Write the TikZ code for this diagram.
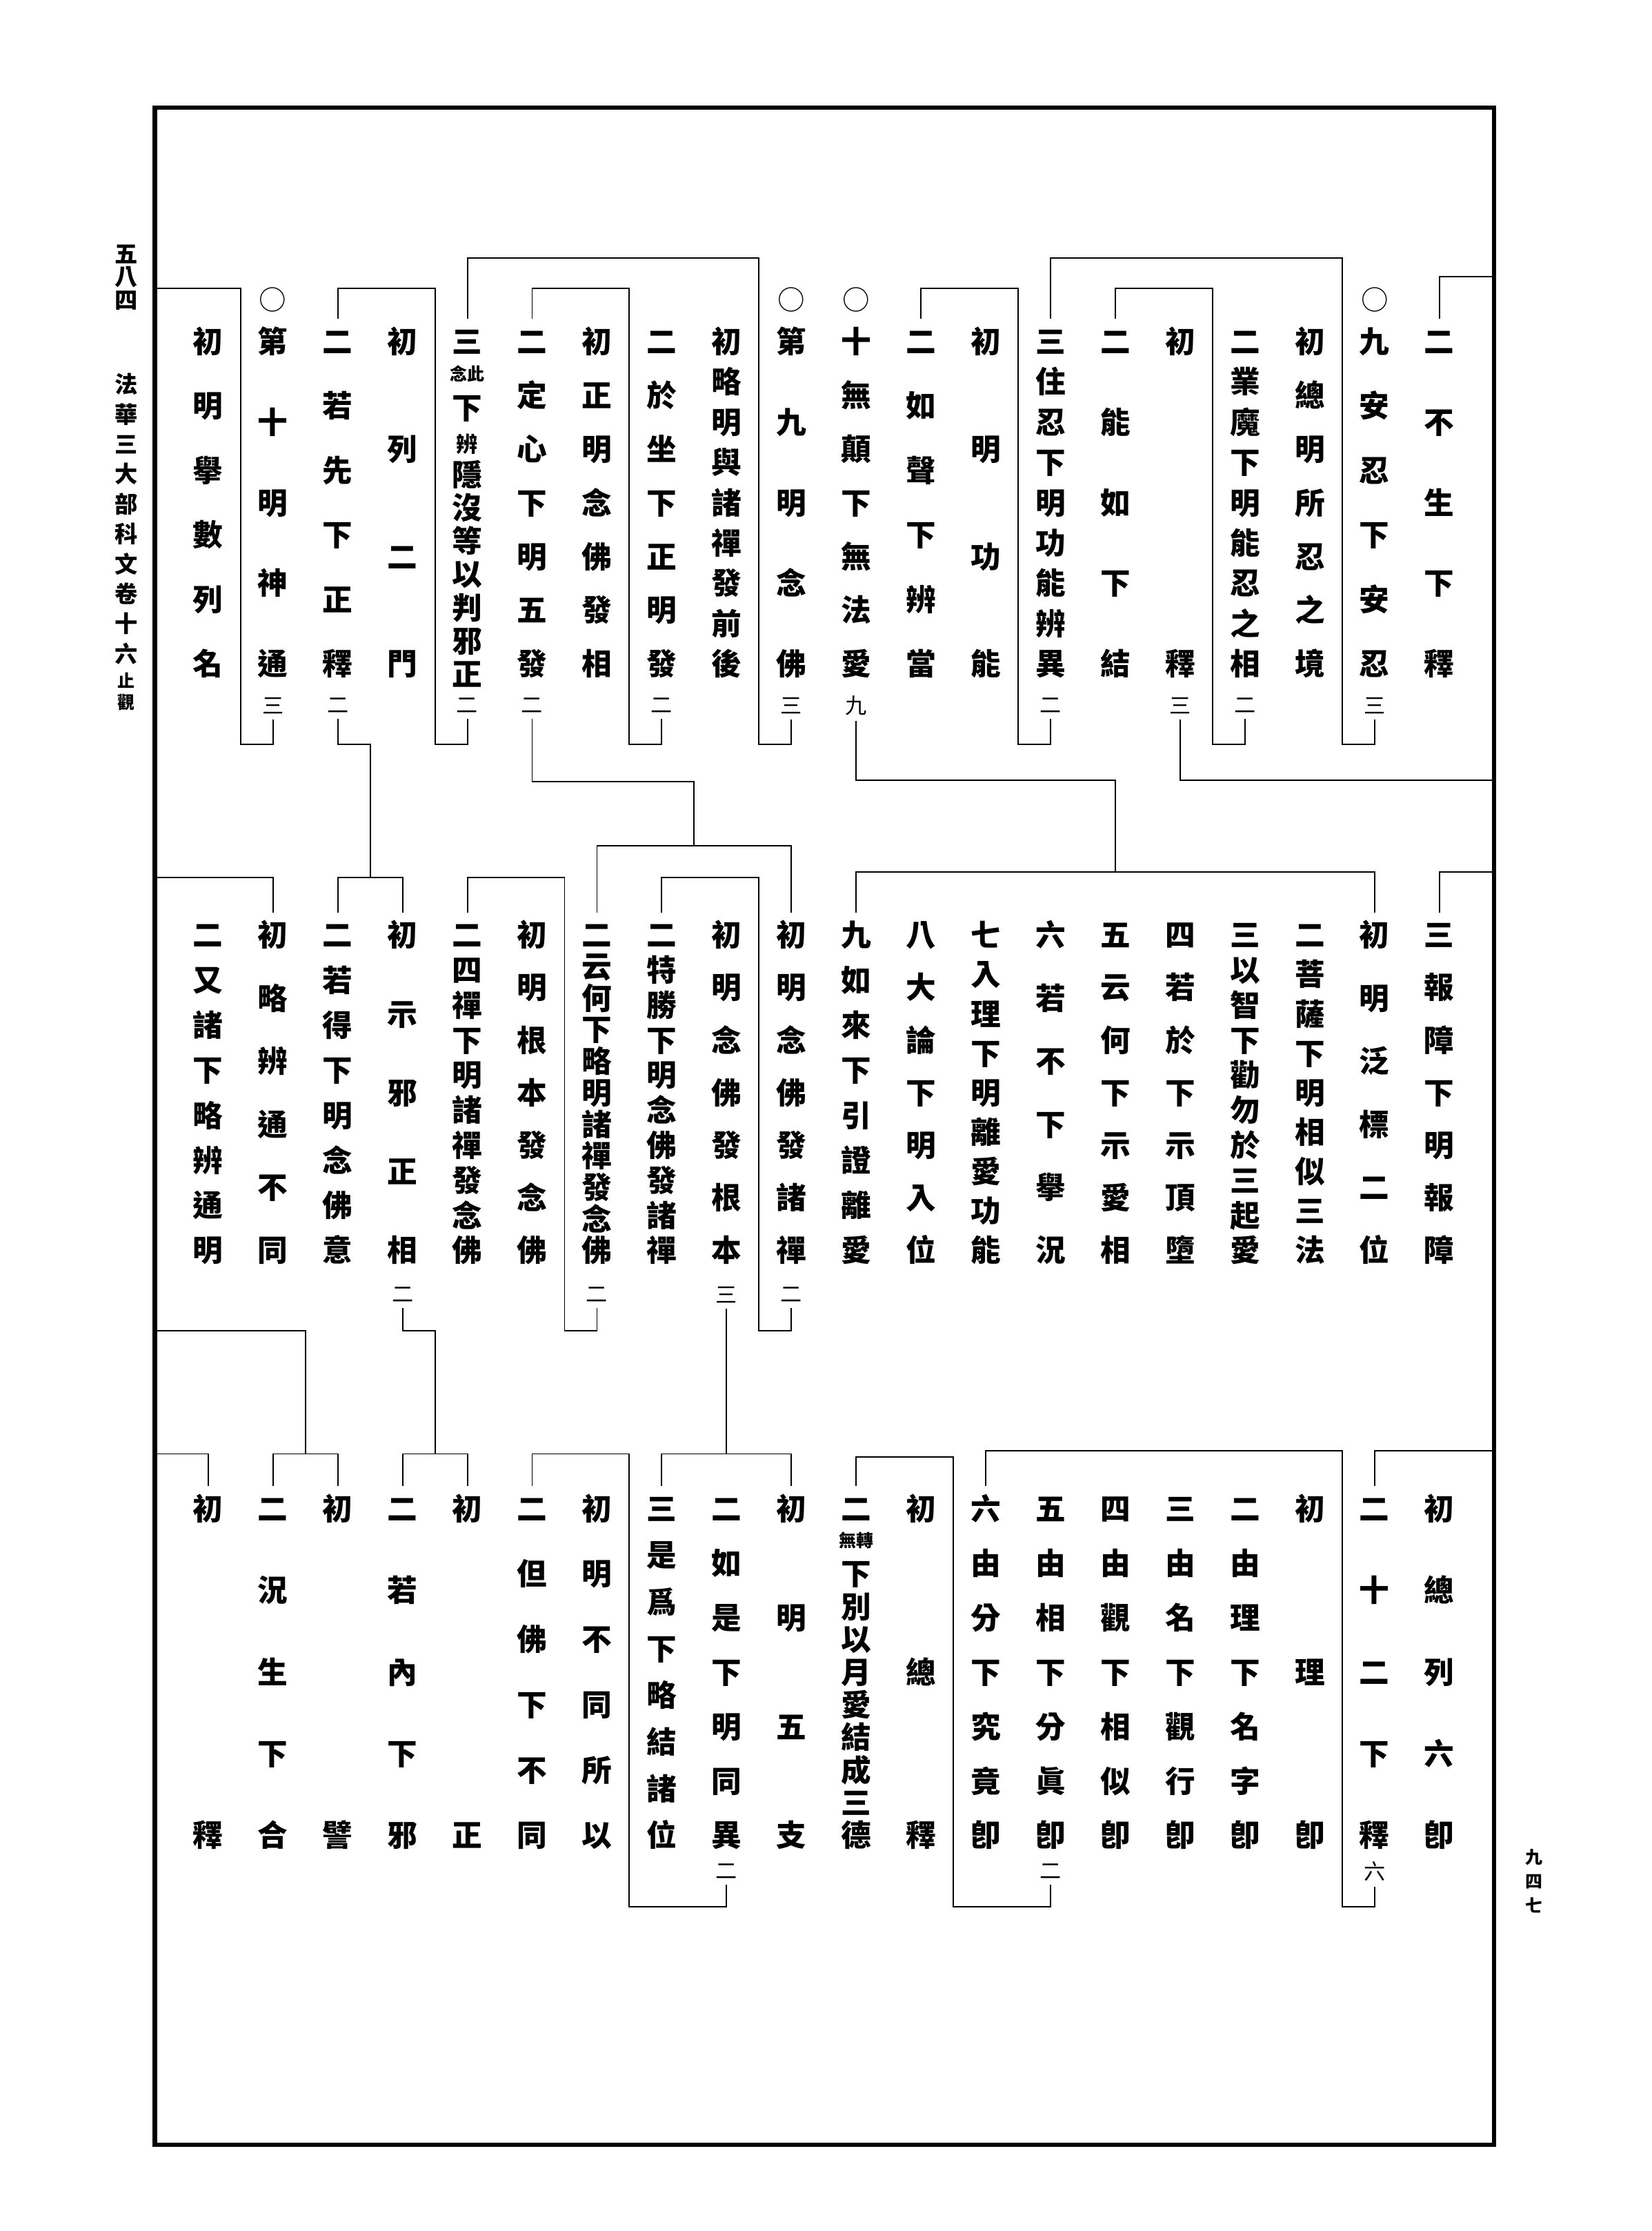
\documentclass[tikz,border=0pt]{standalone}
\usepackage{fontspec}
\newfontfamily\cjk{Noto Sans CJK TC}

% x of the k-th column, counted from the right
\pgfmathdeclarefunction{cx}{1}{\pgfmathparse{1004-45.2*(#1-1)}}

\newcommand\sm[1]{\raisebox{.18em}{\fontsize{12}{12}\selectfont#1}}
\newcommand\colbox[3]{\vbox to \dimexpr#2pt-#1pt+.88em\relax{\offinterlineskip
  \foreach \ch [count=\k] in #3{\ifnum\k>1 \vfill\fi
    \hbox to 1em{\hss\vrule height .88em depth .12em width 0pt\ch\hss}}}}
\newcommand\kcol[6][col]{\node[#1] (#2) at ({#3},{(#4+#5)/2}) {\colbox{#4}{#5}{#6}};}

\tikzset{
  col/.style={inner sep=0pt, outer ysep=5pt, font=\cjk\bfseries\fontsize{21}{21}\selectfont},
  num/.style={inner sep=0pt, outer ysep=4pt, font=\cjk\fontsize{15}{15}\selectfont},
  ring/.style={inner sep=0pt, font=\cjk\fontsize{19}{19}\selectfont},
  mtext/.style={col, font=\cjk\bfseries\fontsize{16}{16}\selectfont},
  msmall/.style={col, font=\cjk\bfseries\fontsize{12}{12}\selectfont},
  br/.style={line width=.9pt},
  pageframe/.style={line width=3pt}
}

\begin{document}
\begin{tikzpicture}[x=1pt,y=-1pt]
  \fill[white] (0,0) rectangle (1152,1556);
  \useasboundingbox (0,0) rectangle (1152,1556);
  \draw[pageframe] (108,75) rectangle (1042,1496);
  % margin
  \kcol[mtext]{hd1}{88}{177}{209}{{五,八,四}}
  \kcol[mtext]{hd2}{88}{268}{456}{{法,華,三,大,部,科,文,卷,十,六}}
  \kcol[msmall]{hd3}{88}{475}{490}{{止,觀}}
  \kcol[msmall]{pgno}{1070}{1295}{1329}{{九,四,七}}

  % first row
  \foreach \i/\txt in {1/{二,不,生,下,釋},2/{九,安,忍,下,安,忍},3/{初,總,明,所,忍,之,境},
      4/{二,業,魔,下,明,能,忍,之,相},5/{初,釋},6/{二,能,如,下,結},7/{三,住,忍,下,明,功,能,辨,異},
      8/{初,明,功,能},9/{二,如,聲,下,辨,當},10/{十,無,顛,下,無,法,愛},11/{第,九,明,念,佛},
      12/{初,略,明,與,諸,禪,發,前,後},13/{二,於,坐,下,正,明,發},14/{初,正,明,念,佛,發,相},
      15/{二,定,心,下,明,五,發},17/{初,列,二,門},18/{二,若,先,下,正,釋},19/{第,十,明,神,通},
      20/{初,明,擧,數,列,名}}
    {\kcol{a\i}{cx(\i)}{238}{463}{\txt}}
  \kcol{a16}{cx(16)}{238}{470}{{三,\sm{念此},下,{\fontsize{15}{15}\selectfont 辨},隱,沒,等,以,判,邪,正}}
  \foreach \i in {2,10,11,19}
    \node[ring] (a\i-o) at ({cx(\i)},209) {○};
  \foreach \i/\txt in {2/三,4/二,5/三,7/二,10/九,11/三,13/二,15/二,16/二,18/二,19/三}
    \node[num] (a\i-n) at ({cx(\i)},492) {\txt};

  % second row
  \foreach \i/\txt in {1/{三,報,障,下,明,報,障},2/{初,明,泛,標,二,位},3/{二,菩,薩,下,明,相,似,三,法},
      4/{三,以,智,下,勸,勿,於,三,起,愛},5/{四,若,於,下,示,頂,墮},6/{五,云,何,下,示,愛,相},
      7/{六,若,不,下,擧,況},8/{七,入,理,下,明,離,愛,功,能},9/{八,大,論,下,明,入,位},
      10/{九,如,來,下,引,證,離,愛},11/{初,明,念,佛,發,諸,禪},12/{初,明,念,佛,發,根,本},
      13/{二,特,勝,下,明,念,佛,發,諸,禪},14/{二,云,何,下,略,明,諸,禪,發,念,佛},
      15/{初,明,根,本,發,念,佛},16/{二,四,禪,下,明,諸,禪,發,念,佛},17/{初,示,邪,正,相},
      18/{二,若,得,下,明,念,佛,意},19/{初,略,辨,通,不,同},20/{二,又,諸,下,略,辨,通,明}}
    {\kcol{b\i}{cx(\i)}{652}{872}{\txt}}
  \foreach \i/\txt in {11/二,12/三,14/二,17/二}
    \node[num] (b\i-n) at ({cx(\i)},903) {\txt};

  % third row
  \foreach \i/\txt in {1/{初,總,列,六,卽},2/{二,十,二,下,釋},3/{初,理,卽},4/{二,由,理,下,名,字,卽},
      5/{三,由,名,下,觀,行,卽},6/{四,由,觀,下,相,似,卽},7/{五,由,相,下,分,眞,卽},
      8/{六,由,分,下,究,竟,卽},9/{初,總,釋},11/{初,明,五,支},12/{二,如,是,下,明,同,異},
      13/{三,是,爲,下,略,結,諸,位},14/{初,明,不,同,所,以},15/{二,但,佛,下,不,同},
      16/{初,正},17/{二,若,內,下,邪},18/{初,譬},19/{二,況,生,下,合},20/{初,釋}}
    {\kcol{c\i}{cx(\i)}{1052}{1280}{\txt}}
  \kcol{c10}{cx(10)}{1052}{1280}{{二,\sm{無轉},下,別,以,月,愛,結,成,三,德}}
  \foreach \i/\txt in {2/六,7/二,12/二}
    \node[num] (c\i-n) at ({cx(\i)},1305) {\txt};

  % brackets, first row
  \draw[br] (1042,193) -| (a1.north);
  \draw[br] (a2-n.south) |- ({cx(2.5)},519) |- (a7 |- 0,180) -- (a7.north);
  \draw[br] (a4-n.south) |- ({cx(4.5)},519) |- (a6 |- 0,201) -- (a6.north);
  \draw[br] (a7-n.south) |- ({cx(7.5)},519) |- (a9 |- 0,201) -- (a9.north);
  \draw[br] (a11-n.south) |- ({cx(11.5)},519) |- (a16 |- 0,180) -- (a16.north);
  \draw[br] (a13-n.south) |- ({cx(13.5)},519) |- (a15 |- 0,201) -- (a15.north);
  \draw[br] (a16-n.south) |- ({cx(16.5)},519) |- (a18 |- 0,201) -- (a18.north);
  \draw[br] (a19-n.south) |- ({cx(19.5)},519) |- (108,201);
  % first row to second row
  \draw[br] (a5-n.south) |- (1042,544);
  \draw[br] (a10-n.south) |- ({cx(6)},544) -- ({cx(6)},608);
  \draw[br] (a15-n.south) |- ({cx(12.5)},545) -- ({cx(12.5)},590);
  \draw[br] (a18-n.south) |- ({cx(17.5)},519) -- ({cx(17.5)},612);

  % brackets, second row
  \draw[br] (1042,608) -| (b1.north);
  \draw[br] (b10.north) |- (b2 |- 0,608) -- (b2.north);
  \draw[br] (b14.north) |- (b11 |- 0,590) -- (b11.north);
  \draw[br] (b18.north) |- (b17 |- 0,612) -- (b17.north);
  \draw[br] (108,612) -| (b19.north);
  \draw[br] (b11-n.south) |- ({cx(11.5)},928) |- (b13 |- 0,612) -- (b13.north);
  \draw[br] (b14-n.south) |- ({cx(14.5)},928) |- (b16 |- 0,612) -- (b16.north);
  % second row to third row
  \draw[br] (b12-n.south) -- (b12 |- 0,1014);
  \draw[br] (b17-n.south) |- ({cx(16.5)},928) -- ({cx(16.5)},1014);
  \draw[br] (108,928) -| ({cx(18.5)},1014);

  % brackets, third row
  \draw[br] (c13.north) |- (c11 |- 0,1014) -- (c11.north);
  \draw[br] (c17.north) |- (c16 |- 0,1014) -- (c16.north);
  \draw[br] (c19.north) |- (c18 |- 0,1014) -- (c18.north);
  \draw[br] (108,1014) -| (c20.north);
  \draw[br] (1042,1012) -| (c2.north);
  \draw[br] (c2-n.south) |- ({cx(2.5)},1330) |- (c8 |- 0,1012) -- (c8.north);
  \draw[br] (c7-n.south) |- ({cx(8.5)},1330) |- (c10 |- 0,1016) -- (c10.north);
  \draw[br] (c12-n.south) |- ({cx(13.5)},1330) |- (c15 |- 0,1014) -- (c15.north);
\end{tikzpicture}
\end{document}
